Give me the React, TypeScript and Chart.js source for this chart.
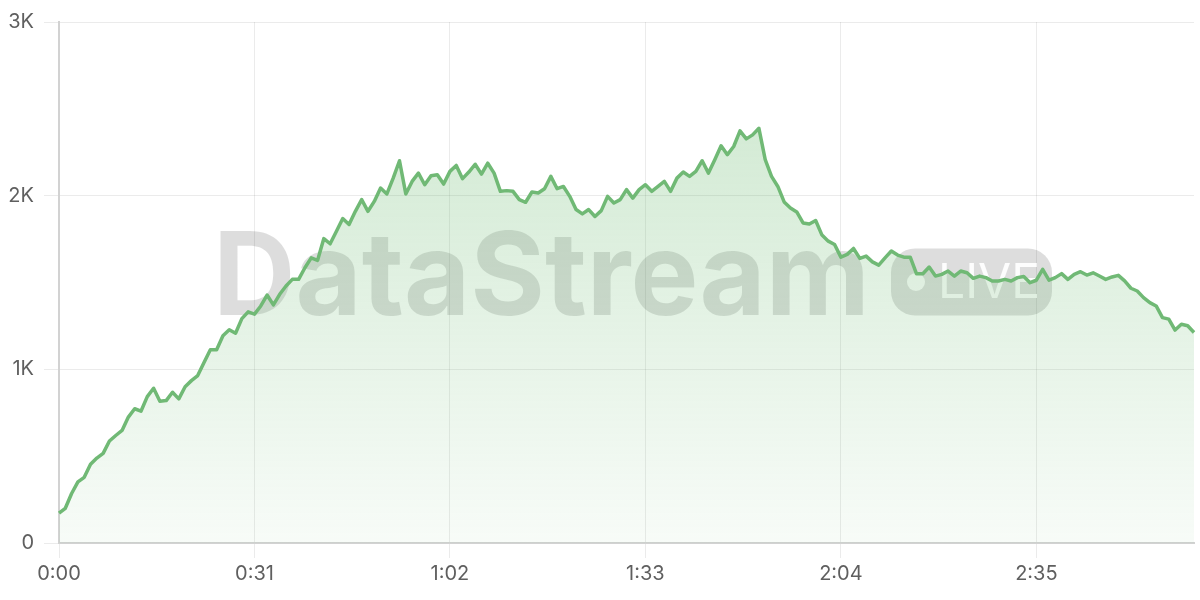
import React, { useEffect, useRef } from "react";
import { Chart, registerables } from "chart.js";

Chart.register(...registerables);

// Concurrent viewers, one reading per second (0:00 .. 3:00)
const viewers = [
  172, 200, 285, 352, 378, 453, 489, 516, 587, 619,
  648, 725, 773, 759, 843, 891, 816, 820, 868, 830,
  900, 935, 964, 1040, 1113, 1113, 1193, 1228, 1208, 1292,
  1331, 1318, 1365, 1428, 1371, 1432, 1480, 1518, 1518, 1585,
  1642, 1627, 1753, 1723, 1795, 1868, 1834, 1910, 1977, 1910,
  1967, 2044, 2010, 2101, 2201, 2010, 2082, 2130, 2063, 2115,
  2121, 2067, 2140, 2174, 2098, 2136, 2181, 2124, 2187, 2130,
  2025, 2029, 2025, 1977, 1962, 2021, 2015, 2040, 2111, 2040,
  2053, 1996, 1920, 1895, 1920, 1880, 1914, 1996, 1958, 1977,
  2035, 1986, 2035, 2063, 2025, 2053, 2082, 2025, 2101, 2136,
  2111, 2140, 2201, 2130, 2207, 2287, 2236, 2283, 2373, 2327,
  2350, 2388, 2207, 2111, 2053, 1964, 1929, 1906, 1843, 1837,
  1857, 1773, 1738, 1719, 1646, 1662, 1696, 1639, 1652, 1619,
  1600, 1642, 1681, 1658, 1646, 1646, 1550, 1550, 1589, 1537,
  1547, 1566, 1537, 1566, 1556, 1524, 1537, 1528, 1509, 1509,
  1518, 1509, 1528, 1535, 1499, 1513, 1576, 1513, 1528, 1551,
  1518, 1547, 1562, 1543, 1556, 1537, 1518, 1532, 1541, 1509,
  1467, 1451, 1413, 1384, 1365, 1298, 1289, 1226, 1260, 1251,
  1212,
];

const seconds = viewers.map((_, i) => i);
const timeLabels = seconds.map(
  (s) => `${Math.floor(s / 60)}:${String(s % 60).padStart(2, "0")}`
);
const yMax = 3000;
const yStep = 1000;
const watermarkText = "DataStream";
const badgeText = "LIVE";

const FONT = "Inter, 'Noto Sans', sans-serif";

const watermarkPlugin = {
  id: "watermark",
  beforeDatasetsDraw(chart: any) {
    const { ctx, chartArea: a } = chart;
    ctx.save();
    const textW = 657;
    const gap = 21;
    const pillW = 161;
    const pillH = 67;
    const total = textW + gap + pillW;
    const cx = (a.left + a.right) / 2 + 6;
    const cy = (a.top + a.bottom) / 2;
    const x0 = cx - total / 2;
    const baseline = cy + 32;

    ctx.fillStyle = "rgba(0,0,0,0.135)";
    ctx.textAlign = "left";
    ctx.textBaseline = "alphabetic";
    ctx.font = `bold 115px ${FONT}`;
    const measured = ctx.measureText(watermarkText).width;
    ctx.save();
    ctx.translate(x0, baseline);
    ctx.scale(textW / measured, 1);
    ctx.fillText(watermarkText, 0, 0);
    ctx.restore();

    const px = x0 + textW + gap;
    const py = baseline - pillH + 1;
    ctx.beginPath();
    if (ctx.roundRect) ctx.roundRect(px, py, pillW, pillH, 24);
    else ctx.rect(px, py, pillW, pillH);
    ctx.fill();

    ctx.fillStyle = "rgba(255,255,255,0.92)";
    ctx.beginPath();
    ctx.arc(px + 25, py + pillH / 2, 9, 0, Math.PI * 2);
    ctx.fill();

    ctx.font = `48px ${FONT}`;
    ctx.textBaseline = "middle";
    ctx.fillText(badgeText, px + 47, py + pillH / 2 + 2);
    ctx.restore();
  },
};

export default function App() {
  const canvasRef = useRef<HTMLCanvasElement | null>(null);

  useEffect(() => {
    document.body.style.margin = "0";
    const canvas = canvasRef.current;
    if (!canvas) return;
    const chart = new Chart(canvas, {
      type: "line",
      data: {
        labels: timeLabels,
        datasets: [
          {
            data: viewers,
            borderColor: "#70b975",
            borderWidth: 3.5,
            borderJoinStyle: "round",
            pointRadius: 0,
            tension: 0,
            fill: "origin",
            backgroundColor: (c: any) => {
              const { chart } = c;
              const area = chart.chartArea;
              if (!area) return "rgba(109,187,114,0.2)";
              const g = chart.ctx.createLinearGradient(0, area.top, 0, area.bottom);
              g.addColorStop(0, "rgba(109,187,114,0.36)");
              g.addColorStop(1, "rgba(109,187,114,0.05)");
              return g;
            },
          },
        ],
      },
      options: {
        responsive: false,
        animation: false,
        layout: { padding: { top: 8, right: 6, left: 0, bottom: 0 } },
        plugins: {
          legend: { display: false },
          tooltip: { enabled: false },
        },
        scales: {
          x: {
            type: "category",
            grid: { color: "rgba(0,0,0,0.08)", tickLength: 15 },
            border: { color: "#d2d2d2", width: 2 },
            ticks: {
              autoSkip: true,
              maxTicksLimit: 6,
              maxRotation: 0,
              minRotation: 0,
              padding: 4,
              color: "#5f5f5f",
              font: { family: FONT, size: 20 },
            },
            afterFit: (s: any) => {
              s.height = 57;
            },
          },
          y: {
            min: 0,
            max: yMax,
            grid: { color: "rgba(0,0,0,0.08)", tickLength: 15 },
            border: { color: "#d2d2d2", width: 2 },
            ticks: {
              stepSize: yStep,
              padding: 10,
              color: "#5f5f5f",
              font: { family: FONT, size: 20 },
              callback: (v: any) => (v === 0 ? "0" : `${Number(v) / 1000}K`),
            },
            afterFit: (s: any) => {
              s.width = 59;
            },
          },
        },
      },
      plugins: [watermarkPlugin],
    });
    return () => chart.destroy();
  }, []);

  return (
    <div style={{ width: 1200, height: 600 }}>
      <canvas ref={canvasRef} width={1200} height={600} />
    </div>
  );
}
